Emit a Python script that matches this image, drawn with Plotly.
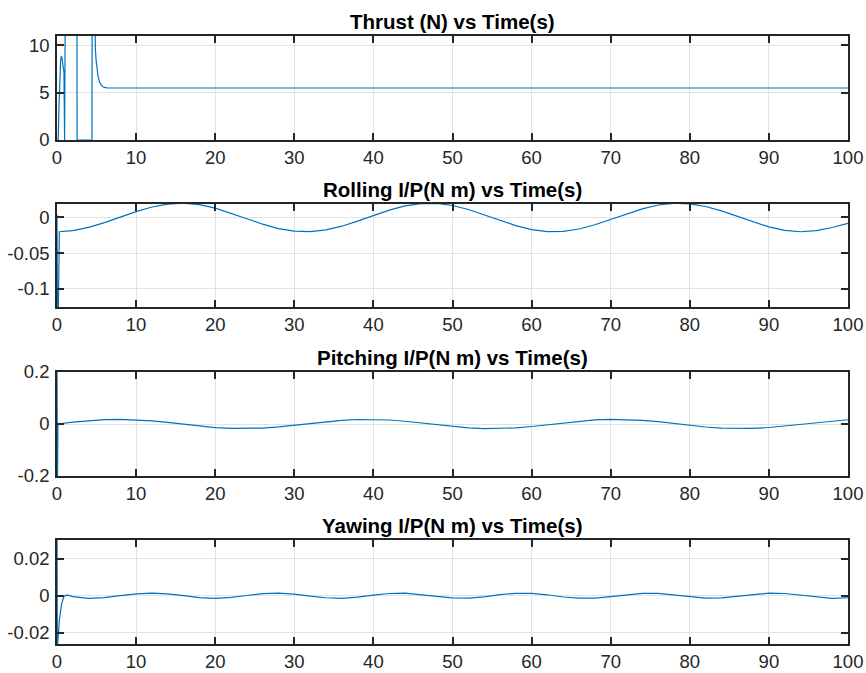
import plotly.graph_objects as go

# ---- data -------------------------------------------------------------
# Thrust (N): start-up transient, saturated pulses, then steady hover value
thrust_t = [0, 0.15, 0.25, 0.35, 0.45, 0.55, 0.65, 0.75, 0.88, 0.96, 1.08,
            2.52, 2.54, 4.42, 4.46, 4.70, 4.76, 4.85, 4.95, 5.05, 5.2, 5.4,
            5.6, 5.85, 6.3, 7, 100]
thrust_v = [0, 0, 3.5, 6.5, 8.3, 8.9, 8.6, 7.9, 7.2, 0, 20,
            20, 0, 0, 20, 20, 11.2, 9.6, 8.4, 7.5, 6.7, 6.1,
            5.8, 5.6, 5.52, 5.5, 5.5]

# common sample times after the initial transient (every 2 s)
t_main = list(range(2, 101, 2))

roll_t0 = [0, 0.08, 0.3]
roll_v0 = [0.004, -0.2, -0.0199]
roll_main = [-0.0184, -0.0139, -0.0072, 0.0006, 0.0083, 0.0147, 0.0188, 0.0200,
             0.0179, 0.0131, 0.0061, -0.0017, -0.0094, -0.0155, -0.0192, -0.0199,
             -0.0174, -0.0122, -0.0050, 0.0029, 0.0104, 0.0162, 0.0195, 0.0197,
             0.0168, 0.0112, 0.0038, -0.0041, -0.0113, -0.0169, -0.0197, -0.0195,
             -0.0161, -0.0102, -0.0027, 0.0051, 0.0121, 0.0175, 0.0199, 0.0192,
             0.0154, 0.0092, 0.0016, -0.0062, -0.0132, -0.0181, -0.0200, -0.0185,
             -0.0140, -0.0082]

pitch_t0 = [0, 0.05, 0.12]
pitch_v0 = [0.25, -0.25, 0.0]
pitch_main = [0.0070, 0.0129, 0.0168, 0.0180, 0.0164, 0.0122, 0.0060, -0.0010,
              -0.0080, -0.0136, -0.0171, -0.0179, -0.0159, -0.0114, -0.0050, 0.0021,
              0.0089, 0.0143, 0.0174, 0.0178, 0.0154, 0.0105, 0.0040, -0.0032,
              -0.0098, -0.0149, -0.0177, -0.0176, -0.0149, -0.0097, -0.0030, 0.0042,
              0.0107, 0.0155, 0.0178, 0.0174, 0.0143, 0.0088, 0.0019, -0.0052,
              -0.0115, -0.0160, -0.0179, -0.0171, -0.0135, -0.0077, -0.0009, 0.0061,
              0.0123, 0.0164]

yaw_t0 = [0, 0.04, 0.1, 0.3, 0.6, 0.9, 1.2, 1.5]
yaw_v0 = [0.05, -0.03, -0.025, -0.013, -0.004, -0.0003, 0.0003, 0.0002]
yaw_main = [-0.0005, -0.0014, -0.0010, -0.0000, 0.0010, 0.0014, 0.0010, -0.0000,
            -0.0010, -0.0014, -0.0009, 0.0001, 0.0011, 0.0014, 0.0009, -0.0002,
            -0.0011, -0.0014, -0.0008, 0.0003, 0.0012, 0.0014, 0.0007, -0.0004,
            -0.0012, -0.0013, -0.0006, 0.0006, 0.0013, 0.0013, 0.0005, -0.0007,
            -0.0013, -0.0013, -0.0005, 0.0006, 0.0013, 0.0013, 0.0004, -0.0007,
            -0.0013, -0.0012, -0.0003, 0.0007, 0.0014, 0.0012, 0.0003, -0.0008,
            -0.0014, -0.0011]

titles = ["Thrust (N) vs Time(s)", "Rolling I/P(N m) vs Time(s)",
          "Pitching I/P(N m) vs Time(s)", "Yawing I/P(N m) vs Time(s)"]

x_ticks = [0, 10, 20, 30, 40, 50, 60, 70, 80, 90, 100]
y_ranges = [[0, 11], [-0.1254, 0.0189], [-0.2, 0.2], [-0.0261, 0.0301]]
y_tickvals = [[0, 5, 10], [-0.1, -0.05, 0], [-0.2, 0, 0.2], [-0.02, 0, 0.02]]
y_ticktext = [["0", "5", "10"], ["-0.1", "-0.05", "0"],
              ["-0.2", "0", "0.2"], ["-0.02", "0", "0.02"]]

series = [
    (thrust_t, thrust_v),
    (roll_t0 + t_main, roll_v0 + roll_main),
    (pitch_t0 + t_main, pitch_v0 + pitch_main),
    (yaw_t0 + t_main, yaw_v0 + yaw_main),
]

# ---- styling ----------------------------------------------------------
FONT = "Liberation Sans, Arial, Helvetica, sans-serif"
AX_COLOR = "#262626"
GRID = "#e3e3e3"
LINE = "#0072BD"

W, H = 866, 673
M_L, M_R, M_T, M_B = 57, 18, 36, 29
plot_h = H - M_T - M_B
panel_px = [(36, 140), (204, 307), (372, 476), (540, 644)]

fig = go.Figure()
layout = dict(
    width=W, height=H,
    margin=dict(l=M_L, r=M_R, t=M_T, b=M_B, autoexpand=False),
    paper_bgcolor="white", plot_bgcolor="white",
    showlegend=False,
    font=dict(family=FONT, size=18.5, color=AX_COLOR),
    annotations=[],
)

for i, ((tx, vy), title) in enumerate(zip(series, titles)):
    n = "" if i == 0 else str(i + 1)
    top, bot = panel_px[i]
    dom = [(H - M_B - bot) / plot_h, (H - M_B - top) / plot_h]
    fig.add_trace(go.Scatter(
        x=tx, y=vy, mode="lines",
        line=dict(color=LINE, width=1.2),
        xaxis="x" + n, yaxis="y" + n, cliponaxis=True,
    ))
    common = dict(
        showline=True, linecolor=AX_COLOR, linewidth=1.6, mirror="ticks",
        ticks="inside", ticklen=7, tickwidth=1.6, tickcolor=AX_COLOR,
        showgrid=True, gridcolor=GRID, gridwidth=1, zeroline=False,
        automargin=False,
        tickfont=dict(family=FONT, size=18.5, color=AX_COLOR),
    )
    layout["xaxis" + n] = dict(
        common, domain=[0, 1], anchor="y" + n, range=[0, 100],
        tickvals=x_ticks, ticktext=[str(v) for v in x_ticks],
        ticklabelstandoff=0,
    )
    layout["yaxis" + n] = dict(
        common, domain=dom, anchor="x" + n, range=y_ranges[i],
        tickvals=y_tickvals[i], ticktext=y_ticktext[i],
        ticklabelstandoff=2,
    )
    layout["annotations"].append(dict(
        text="<b>" + title + "</b>", xref="x" + n + " domain", yref="y" + n + " domain",
        x=0.5, y=1, xanchor="center", yanchor="bottom", yshift=1,
        showarrow=False, font=dict(family=FONT, size=20.5, color="#000000"),
    ))

fig.update_layout(**layout)
fig.write_html("out.html")
